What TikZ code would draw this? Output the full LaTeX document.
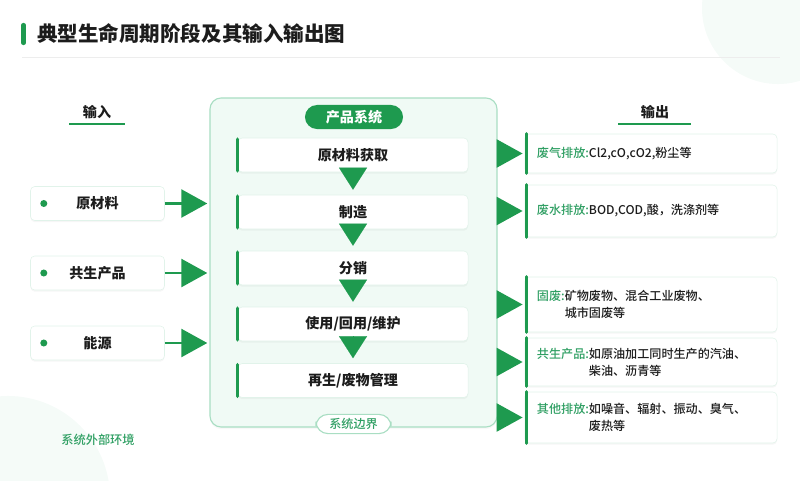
\documentclass[tikz,border=0pt]{standalone}
\usepackage{fontspec}
\setmainfont{Noto Sans CJK SC}
\newfontfamily\cjkmedium{Noto Sans CJK SC Medium}
\usepackage{xcolor}
\usetikzlibrary{arrows.meta, positioning, shadows}
\definecolor{LC1}{HTML}{1E9A4F}
\definecolor{LC2}{HTML}{F0FAF5}
\definecolor{LC3}{HTML}{A9DEC3}
\definecolor{LC4}{HTML}{2F9F63}
\definecolor{LC5}{HTML}{1C1C1C}
\definecolor{LC6}{HTML}{F5FBF8}
\colorlet{LCGreen}{LC1}
\colorlet{LCMint}{LC2}
\colorlet{LCRim}{LC3}
\colorlet{LCLabel}{LC4}
\colorlet{LCInk}{LC5}
\colorlet{LCHaze}{LC6}
\tikzset{
    card/.style = {
        draw         = LCRim!35,
        fill         = white,
        rounded corners = 3pt,
        line width   = 0.4pt,
        drop shadow  = {opacity = 0.07, shadow xshift = 0pt, shadow yshift = -1.2pt},
    },
    stagebox/.style = {
        card,
        minimum width  = 5.75cm,
        minimum height = 0.85cm,
        text           = LCInk,
        font           = \bfseries\fontsize{10}{12}\selectfont,
    },
    inbox/.style = {
        card,
        minimum width  = 3.35cm,
        minimum height = 0.85cm,
        text           = LCInk,
        font           = \bfseries\fontsize{10}{12}\selectfont,
    },
    outbox/.style = {
        card,
        minimum width  = 6.3cm,
        text width     = 5.7cm,
        inner xsep     = 0.3cm,
        align          = left,
        text           = LCInk,
        font           = \cjkmedium\fontsize{8.6}{12}\selectfont,
    },
    header/.style = {
        inner sep = 0pt,
        text      = LCInk,
        font      = \bfseries\fontsize{10}{12}\selectfont,
    },
    pill/.style = {
        rounded corners = 0.3cm,
        inner sep       = 0pt,
        line width      = 0.8pt,
    },
    sidebar/.style = {
        draw       = LCGreen,
        line width = 2.4pt,
        line cap   = round,
    },
    flowtip/.style = {
        draw       = LCGreen,
        line width = 1.8pt,
        -{Triangle[length = 0.65cm, width = 0.7cm, fill = LCGreen]},
    },
    downtip/.style = {
        draw       = LCGreen,
        line width = 0.1pt,
        -{Triangle[length = 0.55cm, width = 0.7cm, fill = LCGreen]},
    },
}
\newcommand{\outlabel}[1]{\textcolor{LCLabel}{#1}}

\begin{document}
\begin{tikzpicture}[x = 0.025cm, y = -0.025cm]
    \useasboundingbox (0, 0) rectangle (800, 480);

    % soft background shapes
    \begin{scope}
        \clip (0, 0) rectangle (800, 480);
        \fill[LCHaze] (778, 8) circle (1.9cm);
        \fill[LCHaze] (8, 498) circle (2.55cm);
    \end{scope}

    % title
    \draw[sidebar, line width = 3pt] (23.5, 25) -- (23.5, 43);
    \node[anchor = west, inner sep = 0pt, text = LCInk,
          font = \bfseries\fontsize{14.6}{16}\selectfont] (title) at (37, 34) {典型生命周期阶段及其输入输出图};
    \draw[black!7, line width = 0.6pt] (22, 57) -- (780, 57);

    % column headers
    \node[header] (inhead)  at (97, 112)  {输入};
    \node[header] (outhead) at (655, 112) {输出};
    \draw[LCGreen, line width = 1.5pt] (69, 124)  -- (125, 124);
    \draw[LCGreen, line width = 1.5pt] (618, 124) -- (691, 124);

    % product system
    \node[draw = LCRim, fill = LCMint, rounded corners = 8pt, line width = 0.8pt,
          minimum width = 7.175cm, minimum height = 8.225cm,
          drop shadow = {opacity = 0.06, shadow xshift = 0pt, shadow yshift = -1.5pt}] (sys) at (353.5, 262.5) {};
    \node[pill, fill = LCGreen, text = white, minimum width = 2.45cm, minimum height = 0.6cm,
          font = \bfseries\fontsize{10}{12}\selectfont] (sysname) at (354, 117) {产品系统};

    \node[stagebox] (s1) at (353, 155)   {原材料获取};
    \node[stagebox] (s2) at (353, 212)   {制造};
    \node[stagebox] (s3) at (353, 268)   {分销};
    \node[stagebox] (s4) at (353, 324)   {使用/回用/维护};
    \node[stagebox] (s5) at (353, 380.5) {再生/废物管理};

    \foreach \i in {1, ..., 5}
        \draw[sidebar] ([yshift = -1pt]s\i.north west) -- ([yshift = 1pt]s\i.south west);

    \foreach \i/\j in {1/2, 2/3, 3/4, 4/5}
        \draw[downtip] ([yshift = 0.1cm]s\i.south) -- ([yshift = 0.125cm]s\j.north);

    \node[pill, draw = LCRim, fill = white, text = LCLabel, minimum width = 1.875cm, minimum height = 0.48cm,
          font = \cjkmedium\fontsize{8.6}{10}\selectfont] (sysedge) at (353.5, 424) {系统边界};

    % inputs
    \node[inbox] (in1) at (97.5, 203.5) {原材料};
    \node[inbox] (in2) at (97.5, 273)   {共生产品};
    \node[inbox] (in3) at (97.5, 343)   {能源};

    \foreach \i in {1, 2, 3} {
        \fill[LCGreen] ([xshift = 0.34cm]in\i.west) circle (2.5pt);
        \draw[flowtip, shorten > = 1.5pt] (in\i.east) -- (sys.west |- in\i);
    }

    % outputs
    \node[outbox, minimum height = 0.975cm] (out1) at (651, 153.5)
        {\outlabel{废气排放:}Cl2,cO,cO2,粉尘等};
    \node[outbox, minimum height = 1.3cm] (out2) at (651, 211)
        {\outlabel{废水排放:}BOD,COD,酸，洗涤剂等};
    \node[outbox, minimum height = 1.375cm] (out3) at (651, 304.5)
        {\outlabel{固废:}矿物废物、混合工业废物、\\\hphantom{固废:}城市固废等};
    \node[outbox, minimum height = 1.2cm] (out4) at (651, 362)
        {\outlabel{共生产品:}如原油加工同时生产的汽油、\\\hphantom{共生产品:}柴油、沥青等};
    \node[outbox, minimum height = 1.275cm] (out5) at (651, 417.5)
        {\outlabel{其他排放:}如噪音、辐射、振动、臭气、\\\hphantom{其他排放:}废热等};

    \foreach \i in {1, ..., 5} {
        \draw[sidebar] ([xshift = 1.5pt]out\i.north west) -- ([xshift = 1.5pt]out\i.south west);
        \draw[flowtip, shorten > = 1.5pt] (sys.east |- out\i) -- (out\i.west);
    }

    % surroundings
    \node[inner sep = 0pt, text = LCLabel, font = \cjkmedium\fontsize{8.7}{10}\selectfont] (env) at (98, 440) {系统外部环境};
\end{tikzpicture}
\end{document}
